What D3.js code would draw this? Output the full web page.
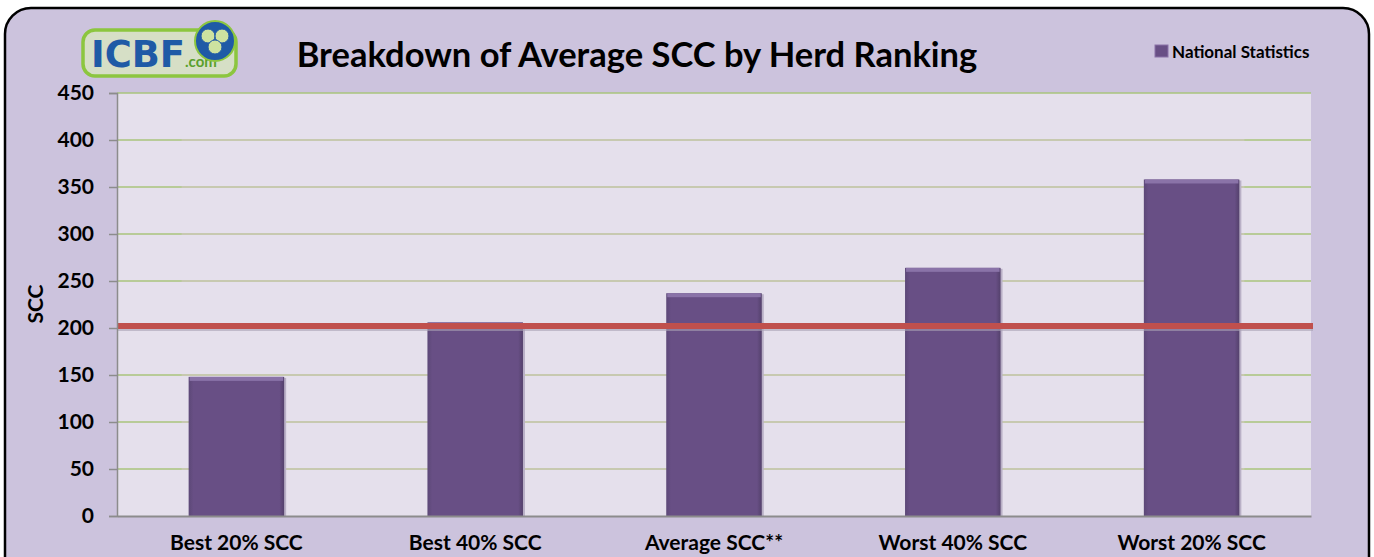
<!DOCTYPE html>
<html>
<head>
<meta charset="utf-8">
<script src="https://cdn.jsdelivr.net/npm/d3@7"></script>
<style>
  body { margin: 0; background: #fff; }
  svg { display: block; }
  svg text { font-family: Lato, "Open Sans", sans-serif; }
</style>
</head>
<body>
<div id="chart"></div>
<script>
// data
const categories = ["Best 20% SCC", "Best 40% SCC", "Average SCC**", "Worst 40% SCC", "Worst 20% SCC"];
const sccValues = [148, 206, 237, 264, 358];
const targetValue = 202;
const yTicks = [0, 50, 100, 150, 200, 250, 300, 350, 400, 450];

const W = 1374, H = 557;
const margin = {top: 93, right: 63, bottom: 41, left: 117};
const width = W - margin.left - margin.right,
    height = H - margin.top - margin.bottom;

const svg = d3.select("#chart").append("svg")
    .attr("width", W)
    .attr("height", H);

// outer frame
svg.append("rect")
    .attr("x", 5).attr("y", 8)
    .attr("width", 1364).attr("height", 600)
    .attr("rx", 26)
    .attr("fill", "#ccc3dd")
    .attr("stroke", "#000")
    .attr("stroke-width", 2.5);

const g = svg.append("g")
    .attr("transform", `translate(${margin.left},${margin.top})`);

const x = d3.scaleBand()
    .domain(categories)
    .range([0, width])
    .paddingInner(0.6)
    .paddingOuter(0.3);

const y = d3.scaleLinear()
    .domain([0, 450])
    .range([height, 0]);

// plot background
g.append("rect")
    .attr("width", width)
    .attr("height", height)
    .attr("fill", "#e5e0ec");

// gridlines: green at the ends, beige behind the bars
const gridLo = x(categories[0]) - 7,
    gridHi = x(categories[categories.length - 1]) + x.bandwidth() + 5;
g.selectAll(".grid")
    .data(yTicks.filter(d => d > 0))
  .enter().append("line")
    .attr("class", "grid")
    .attr("x1", 0).attr("x2", width)
    .attr("y1", d => y(d)).attr("y2", d => y(d))
    .attr("stroke", "#a9c57c")
    .attr("stroke-width", 1.5);
g.selectAll(".grid-mid")
    .data(yTicks.filter(d => d > 0 && d < 450))
  .enter().append("line")
    .attr("class", "grid-mid")
    .attr("x1", gridLo).attr("x2", gridHi)
    .attr("y1", d => y(d)).attr("y2", d => y(d))
    .attr("stroke", "#cdc9b9")
    .attr("stroke-width", 1.5);

// bar gradient
const defs = svg.append("defs");
const grad = defs.append("linearGradient")
    .attr("id", "barGrad").attr("x1", 0).attr("x2", 1).attr("y1", 0).attr("y2", 0);
grad.append("stop").attr("offset", "0%").attr("stop-color", "#5c4877");
grad.append("stop").attr("offset", "5%").attr("stop-color", "#684f85");
grad.append("stop").attr("offset", "95%").attr("stop-color", "#684f85");
grad.append("stop").attr("offset", "100%").attr("stop-color", "#54416c");

g.selectAll(".bar-shadow")
    .data(sccValues)
  .enter().append("rect")
    .attr("x", (d, i) => x(categories[i]) + 2)
    .attr("y", d => y(d) + 1)
    .attr("width", x.bandwidth())
    .attr("height", d => height - y(d))
    .attr("fill", "#b9b0c6");

g.selectAll(".bar")
    .data(sccValues)
  .enter().append("rect")
    .attr("class", "bar")
    .attr("x", (d, i) => x(categories[i]))
    .attr("y", d => y(d))
    .attr("width", x.bandwidth())
    .attr("height", d => height - y(d))
    .attr("fill", "url(#barGrad)");

// top bevel highlight
g.selectAll(".bar-top")
    .data(sccValues)
  .enter().append("rect")
    .attr("x", (d, i) => x(categories[i]) + 1)
    .attr("y", d => y(d))
    .attr("width", x.bandwidth() - 2)
    .attr("height", 4)
    .attr("fill", "#8a73a8");

// target line
g.append("line")
    .attr("x1", 0).attr("x2", width + 2)
    .attr("y1", y(targetValue) + 2).attr("y2", y(targetValue) + 2)
    .attr("stroke", "#a9a2b5")
    .attr("stroke-width", 6)
    .attr("opacity", 0.6);
g.append("line")
    .attr("x1", 0).attr("x2", width + 2)
    .attr("y1", y(targetValue)).attr("y2", y(targetValue))
    .attr("stroke", "#c0504d")
    .attr("stroke-width", 6);

// axes
const yAxis = g.append("g")
    .call(d3.axisLeft(y).tickValues(yTicks).tickSize(8).tickPadding(15));
yAxis.select(".domain").attr("stroke", "#8c8c8c").attr("stroke-width", 1.5);
yAxis.selectAll(".tick line").attr("stroke", "#8c8c8c").attr("stroke-width", 1.5);
yAxis.selectAll(".tick text")
    .attr("fill", "#000")
    .style("font-family", "Lato, sans-serif")
    .style("font-size", "21px")
    .style("font-weight", "bold");

const xAxis = g.append("g")
    .attr("transform", `translate(0,${height})`)
    .call(d3.axisBottom(x).tickSize(0).tickPadding(19));
xAxis.select(".domain").attr("stroke", "#8c8c8c").attr("stroke-width", 2);
xAxis.selectAll(".tick text")
    .attr("fill", "#000")
    .style("font-family", "Lato, sans-serif")
    .style("font-size", "21px")
    .style("font-weight", "bold");

// y axis title
svg.append("text")
    .attr("transform", "translate(43,304) rotate(-90)")
    .attr("text-anchor", "middle")
    .style("font-size", "21px")
    .style("font-weight", "bold")
    .text("SCC");

// chart title
svg.append("text")
    .attr("x", 637).attr("y", 67)
    .attr("text-anchor", "middle")
    .style("font-size", "34.5px")
    .style("font-weight", "bold")
    .text("Breakdown of Average SCC by Herd Ranking");

// legend
svg.append("rect")
    .attr("x", 1155).attr("y", 45)
    .attr("width", 13).attr("height", 12)
    .attr("fill", "#684f85")
    .attr("stroke", "#8a73a8");
svg.append("text")
    .attr("x", 1172).attr("y", 58)
    .style("font-size", "17px")
    .style("font-weight", "bold")
    .text("National Statistics");

// ICBF logo
const logo = svg.append("g").attr("transform", "translate(83,30)");
logo.append("rect")
    .attr("width", 153).attr("height", 46)
    .attr("rx", 12)
    .attr("fill", "#d6dfc6")
    .attr("stroke", "#8cc63f")
    .attr("stroke-width", 3.5);
logo.append("text")
    .attr("x", 8).attr("y", 37)
    .attr("fill", "#1f5aa6")
    .style("font-family", "'DejaVu Sans', sans-serif")
    .style("font-size", "37px")
    .style("font-weight", "900")
    .attr("textLength", 94)
    .attr("lengthAdjust", "spacingAndGlyphs")
    .text("ICBF");
logo.append("text")
    .attr("x", 102).attr("y", 37)
    .attr("fill", "#5aa02c")
    .style("font-size", "15px")
    .style("font-weight", "bold")
    .text(".com");
logo.append("circle")
    .attr("cx", 132).attr("cy", 11).attr("r", 20)
    .attr("fill", "#1f5aa6")
    .attr("stroke", "#8cc63f")
    .attr("stroke-width", 2);
[[125, 6], [139, 6], [132, 17]].forEach(([cx, cy]) => {
  logo.append("circle")
      .attr("cx", cx).attr("cy", cy).attr("r", 7)
      .attr("fill", "#cde2a0")
      .attr("stroke", "#1f5aa6");
});
</script>
</body>
</html>
